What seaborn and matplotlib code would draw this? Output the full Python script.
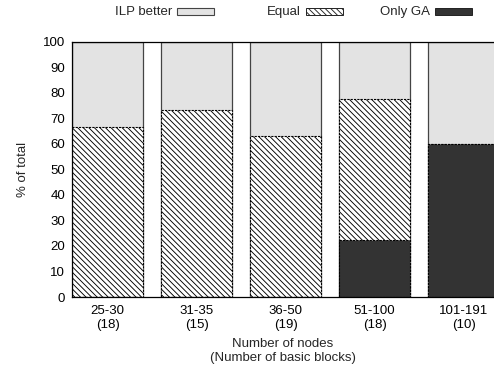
import matplotlib
matplotlib.use("Agg")
import matplotlib.pyplot as plt
import seaborn as sns
from matplotlib.patches import Rectangle

groups = ["25-30\n(18)", "31-35\n(15)", "36-50\n(19)", "51-100\n(18)", "101-191\n(10)"]
ilp_better = [33.3, 26.7, 36.8, 22.2, 40.0]
equal = [66.7, 73.3, 63.2, 55.6, 0.0]
only_ga = [0.0, 0.0, 0.0, 22.2, 60.0]
series_names = ["ILP better", "Equal", "Only GA"]
y_ticks = list(range(0, 101, 10))

FS = 9.5
W, H = 494, 367

sns.set_style("white")
plt.rcParams["font.family"] = ["Liberation Sans", "DejaVu Sans"]
plt.rcParams["font.size"] = FS
plt.rcParams["hatch.linewidth"] = 0.65
plt.rcParams["hatch.color"] = "#222222"

fig = plt.figure(figsize=(W / 100, H / 100), dpi=100)
ax = fig.add_axes([72 / W, 70 / H, 422 / W, 255 / H])

light = "#e3e3e3"
dark = "#333333"
hatch = "\\" * 6

# stacked totals, drawn back to front
top_total = [a + b + c for a, b, c in zip(ilp_better, equal, only_ga)]
mid_total = [b + c for b, c in zip(equal, only_ga)]

sns.barplot(x=groups, y=top_total, color=light, saturation=1, width=0.8,
            edgecolor="#444444", linewidth=0.9, ax=ax)
sns.barplot(x=groups, y=mid_total, color="white", saturation=1, width=0.8,
            edgecolor="black", linewidth=0.8, hatch=hatch,
            linestyle=(0, (2, 1)), ax=ax)
sns.barplot(x=groups, y=only_ga, color=dark, saturation=1, width=0.8,
            edgecolor="black", linewidth=0.8, linestyle=(0, (2, 1)), ax=ax)

ax.set_xlim(-0.4, 4.34)
ax.set_ylim(0, 100)
ax.set_yticks(y_ticks)
ax.tick_params(axis="both", length=0, labelsize=FS, colors="black")
ax.tick_params(axis="x", pad=6)
ax.tick_params(axis="y", pad=5)
for side in ["left", "bottom", "top"]:
    ax.spines[side].set_visible(True)
    ax.spines[side].set_color("black")
    ax.spines[side].set_linewidth(0.9)
ax.spines["right"].set_visible(False)

ax.set_ylabel("% of total", fontsize=FS, labelpad=10)
ax.set_xlabel("Number of nodes\n(Number of basic blocks)", fontsize=FS, labelpad=5)

# key along the top: fixed-width columns, label right-aligned before its sample
key_styles = [
    dict(facecolor=light, edgecolor="#444444", linewidth=0.8),
    dict(facecolor="white", edgecolor="#222222", linewidth=0.7, hatch=hatch),
    dict(facecolor=dark, edgecolor="#222222", linewidth=0.7),
]
sample_x0 = 177
sample_step = 129
sample_w, sample_h = 37, 7
sample_top = 7.5
for i, (name, style) in enumerate(zip(series_names, key_styles)):
    x0 = sample_x0 + i * sample_step
    rect = Rectangle((x0 / W, 1 - (sample_top + sample_h) / H), sample_w / W,
                     sample_h / H, transform=fig.transFigure, **style)
    fig.add_artist(rect)
    fig.text((x0 - 5) / W, 1 - 15 / H, name,
             ha="right", va="baseline", fontsize=FS)

fig.savefig("out.png", dpi=100)
